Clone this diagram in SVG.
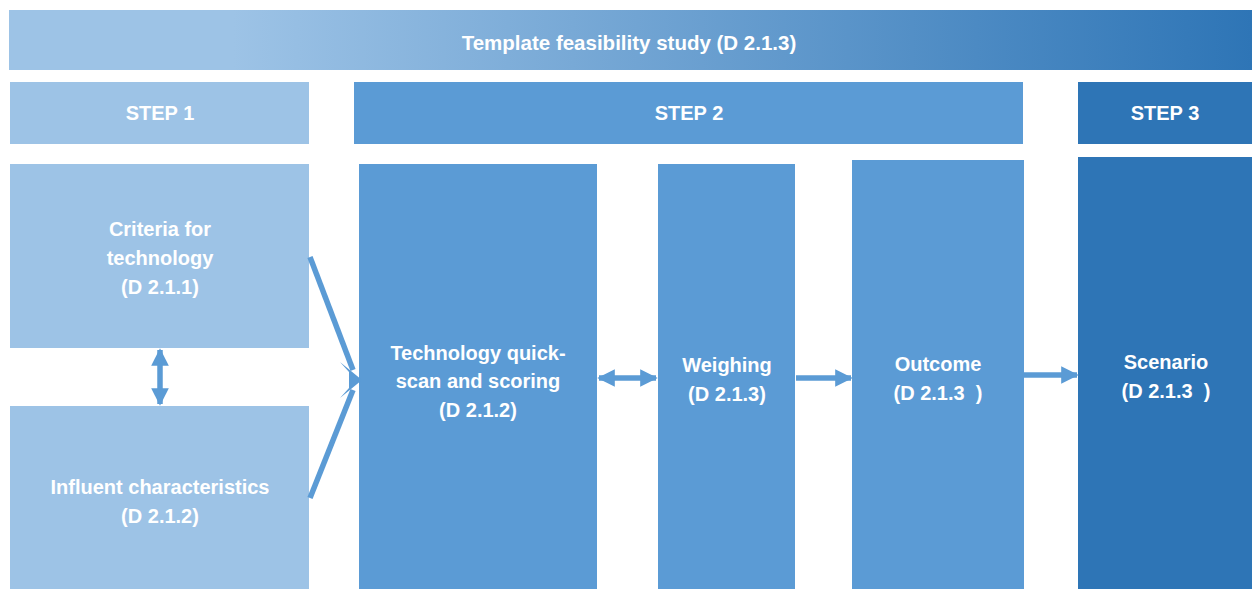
<svg xmlns="http://www.w3.org/2000/svg" width="1254" height="589" viewBox="0 0 1254 589">
  <defs>
    <linearGradient id="titleGrad" x1="0" y1="0" x2="1" y2="0">
      <stop offset="0" stop-color="#9DC3E6"/>
      <stop offset="0.18" stop-color="#9DC3E6"/>
      <stop offset="1" stop-color="#2E75B6"/>
    </linearGradient>
    <marker id="head" viewBox="0 0 10 10" refX="9" refY="5" markerWidth="3.2" markerHeight="3.2" orient="auto-start-reverse" markerUnits="strokeWidth">
      <path d="M0,0 L10,5 L0,10 z" fill="#5B9BD5"/>
    </marker>
  </defs>
  <style>
    .lbl { font-family: "Liberation Sans", Arial, sans-serif; font-weight: bold; font-size: 20px; fill: #FFFFFF; text-anchor: middle; }
    .ttl { font-size: 20.5px; }
    .light { fill: #9DC3E6; }
    .mid { fill: #5B9BD5; }
    .dark { fill: #2E75B6; }
    .conn { stroke: #5B9BD5; stroke-width: 5.5; fill: none; }
  </style>

  <g id="title">
    <rect x="9" y="10" width="1243" height="60" fill="url(#titleGrad)"/>
    <text class="lbl ttl" x="629" y="50">Template feasibility study (D 2.1.3)</text>
  </g>

  <g id="step1">
    <rect class="light" x="10" y="82" width="299" height="62"/>
    <text class="lbl" x="160" y="120">STEP 1</text>
  </g>
  <g id="step2">
    <rect class="mid" x="354" y="82" width="669" height="62"/>
    <text class="lbl" x="689" y="120">STEP 2</text>
  </g>
  <g id="step3">
    <rect class="dark" x="1078" y="82" width="174" height="62"/>
    <text class="lbl" x="1165" y="120">STEP 3</text>
  </g>

  <g id="criteria">
    <rect class="light" x="10" y="164" width="299" height="184"/>
    <text class="lbl" x="160" y="236">Criteria for</text>
    <text class="lbl" x="160" y="265">technology</text>
    <text class="lbl" x="160" y="294">(D 2.1.1)</text>
  </g>
  <g id="influent">
    <rect class="light" x="10" y="406" width="299" height="183"/>
    <text class="lbl" x="160" y="494">Influent characteristics</text>
    <text class="lbl" x="160" y="523">(D 2.1.2)</text>
  </g>
  <g id="quickscan">
    <rect class="mid" x="359" y="164" width="238" height="425"/>
    <text class="lbl" x="478" y="360">Technology quick-</text>
    <text class="lbl" x="478" y="388">scan and scoring</text>
    <text class="lbl" x="478" y="417">(D 2.1.2)</text>
  </g>
  <g id="weighing">
    <rect class="mid" x="658" y="164" width="137" height="425"/>
    <text class="lbl" x="727" y="372">Weighing</text>
    <text class="lbl" x="727" y="401">(D 2.1.3)</text>
  </g>
  <g id="outcome">
    <rect class="mid" x="852" y="160" width="172" height="429"/>
    <text class="lbl" x="938" y="371">Outcome</text>
    <text class="lbl" x="938" y="400" xml:space="preserve">(D 2.1.3  )</text>
  </g>
  <g id="scenario">
    <rect class="dark" x="1078" y="157" width="174" height="432"/>
    <text class="lbl" x="1166" y="369">Scenario</text>
    <text class="lbl" x="1166" y="398" xml:space="preserve">(D 2.1.3  )</text>
  </g>

  <g id="connectors">
    <!-- two inputs merging into one arrowhead -->
    <line class="conn" x1="310" y1="257" x2="353" y2="370"/>
    <line class="conn" x1="310" y1="498" x2="353" y2="390"/>
    <polygon points="340,362 362,380 340,398 349,388 349,372" fill="#5B9BD5"/>
    <!-- criteria <-> influent -->
    <line class="conn" x1="160" y1="350" x2="160" y2="404" marker-start="url(#head)" marker-end="url(#head)"/>
    <!-- quick-scan <-> weighing -->
    <line class="conn" x1="599" y1="378" x2="656" y2="378" marker-start="url(#head)" marker-end="url(#head)"/>
    <!-- weighing -> outcome -->
    <line class="conn" x1="796" y1="378" x2="851" y2="378" marker-end="url(#head)"/>
    <!-- outcome -> scenario -->
    <line class="conn" x1="1024" y1="375" x2="1077" y2="375" marker-end="url(#head)"/>
  </g>
</svg>
